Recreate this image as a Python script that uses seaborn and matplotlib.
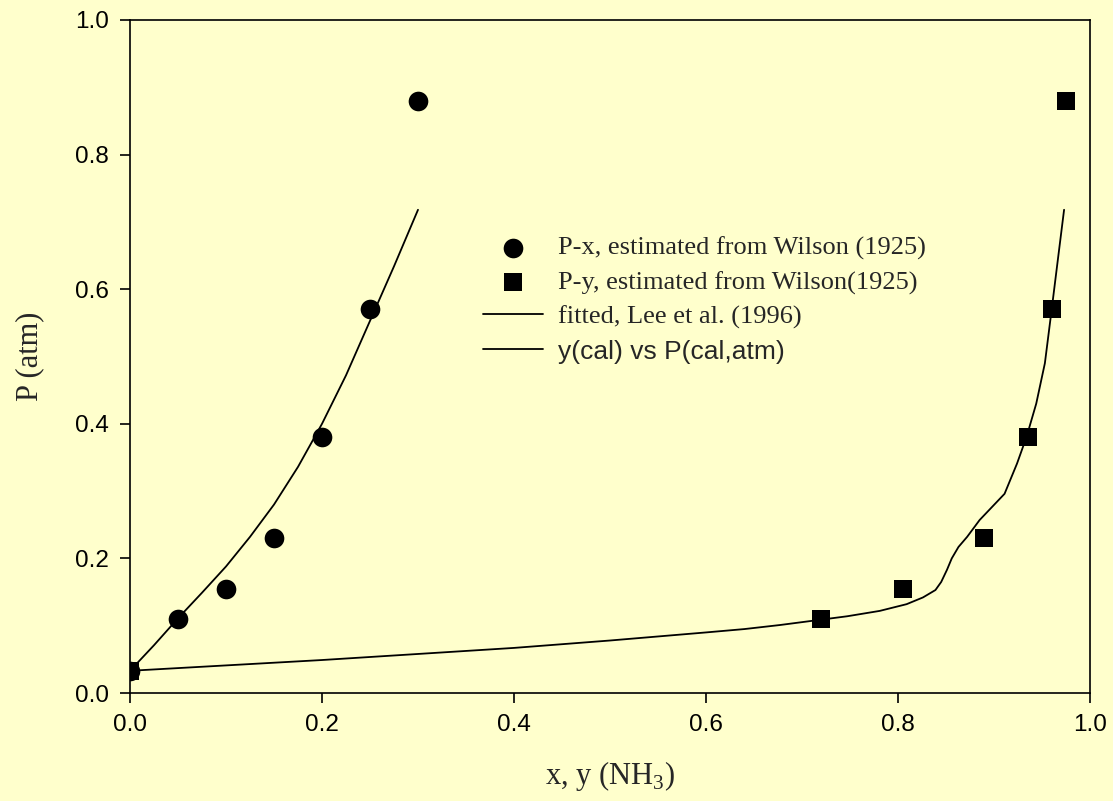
import numpy as np
import pandas as pd
import seaborn as sns
import matplotlib.pyplot as plt

# measured points (estimated from Wilson 1925)
x_liq = [0.0, 0.05, 0.10, 0.15, 0.20, 0.25, 0.30]
p_liq = [0.033, 0.11, 0.155, 0.23, 0.38, 0.57, 0.88]
y_vap = [0.0, 0.72, 0.805, 0.89, 0.935, 0.96, 0.975]
p_vap = [0.033, 0.11, 0.155, 0.23, 0.38, 0.57, 0.88]

# fitted P-x curve (Lee et al. 1996)
x_fit = [0.0, 0.025, 0.05, 0.075, 0.10, 0.125, 0.15, 0.175, 0.20, 0.225, 0.25, 0.275, 0.30]
p_fit = [0.033, 0.071, 0.111, 0.149, 0.188, 0.232, 0.280, 0.336, 0.400, 0.472, 0.553, 0.634, 0.718]

# calculated y vs P curve
y_cal = [0.0, 0.1, 0.2, 0.3, 0.4, 0.5, 0.6, 0.64, 0.677, 0.72, 0.747, 0.781, 0.809, 0.826,
         0.839, 0.845, 0.851, 0.856, 0.863, 0.872, 0.885, 0.911, 0.924, 0.934, 0.944,
         0.953, 0.96, 0.966, 0.973]
p_cal = [0.033, 0.041, 0.049, 0.058, 0.067, 0.078, 0.090, 0.095, 0.101, 0.109, 0.114, 0.122, 0.132, 0.142,
         0.153, 0.165, 0.183, 0.200, 0.217, 0.232, 0.257, 0.296, 0.341, 0.381, 0.430,
         0.490, 0.569, 0.638, 0.718]

bg = '#FFFFCC'
sns.set_style('ticks', {'axes.facecolor': bg, 'figure.facecolor': bg})
plt.rcParams['font.family'] = ['Liberation Sans', 'DejaVu Sans']
plt.rcParams['mathtext.fontset'] = 'custom'
plt.rcParams['mathtext.rm'] = 'Liberation Serif'

fig = plt.figure(figsize=(11.13, 8.01), dpi=100)
ax = fig.add_axes([130 / 1113, 1 - 693 / 801, 960 / 1113, 673 / 801])

liq = pd.DataFrame({'x': x_liq, 'P': p_liq})
vap = pd.DataFrame({'x': y_vap, 'P': p_vap})
fit = pd.DataFrame({'x': x_fit, 'P': p_fit})
cal = pd.DataFrame({'x': y_cal, 'P': p_cal})

sns.scatterplot(data=liq, x='x', y='P', ax=ax, marker='o', s=200, color='black',
                edgecolor='black', linewidth=0, label='P-x, estimated from Wilson (1925)', zorder=3)
sns.scatterplot(data=vap, x='x', y='P', ax=ax, marker='s', s=150, color='black',
                edgecolor='black', linewidth=0, label='P-y, estimated from Wilson(1925)', zorder=3)
sns.lineplot(data=fit, x='x', y='P', ax=ax, sort=False, estimator=None, color='black',
             linewidth=1.3, label='fitted, Lee et al. (1996)')
sns.lineplot(data=cal, x='x', y='P', ax=ax, sort=False, estimator=None, color='black',
             linewidth=1.3, label='y(cal) vs P(cal,atm)')

ax.set_xlim(0, 1)
ax.set_ylim(0, 1)
ax.set_xticks(np.arange(0, 1.01, 0.2))
ax.set_yticks(np.arange(0, 1.01, 0.2))
ax.xaxis.set_major_formatter(plt.FormatStrFormatter('%.1f'))
ax.yaxis.set_major_formatter(plt.FormatStrFormatter('%.1f'))
ax.tick_params(direction='out', length=7, width=1.2, labelsize=17.5, colors='black', pad=8)
for s in ax.spines.values():
    s.set_visible(True)
    s.set_linewidth(1.2)
    s.set_color('black')

ax.set_xlabel('x, y (NH$_\\mathregular{3}$)', family='Liberation Serif', fontsize=22, labelpad=17)
ax.set_ylabel('P (atm)', family='Liberation Serif', fontsize=22, labelpad=22)

leg = ax.legend(loc='center left', bbox_to_anchor=(0.368, 0.584), frameon=False,
                prop={'family': 'Liberation Serif', 'size': 19},
                handlelength=2.27, handletextpad=0.57, labelspacing=0.4,
                borderpad=0, borderaxespad=0)
leg.get_texts()[3].set_family('Liberation Sans')

plt.savefig('out.png', dpi=100, facecolor=bg)
